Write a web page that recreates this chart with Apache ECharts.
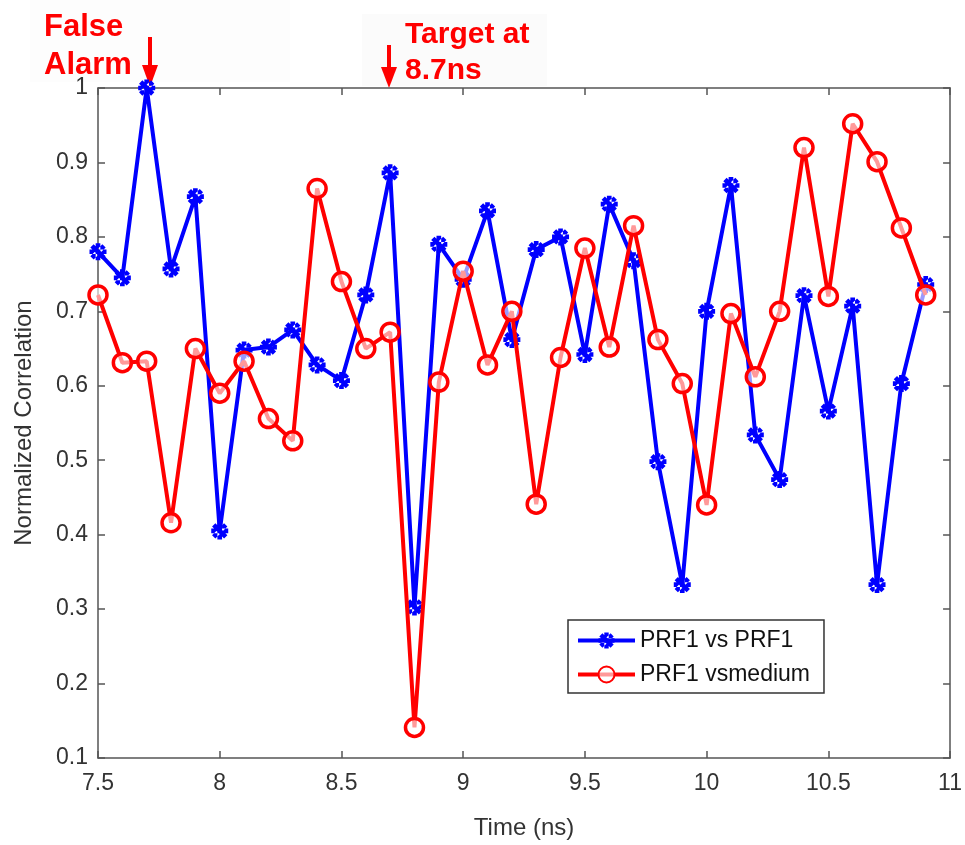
<!DOCTYPE html>
<html><head><meta charset="utf-8">
<script src="https://cdn.jsdelivr.net/npm/echarts@6/dist/echarts.min.js"></script>
<style>html,body{margin:0;padding:0;background:#fff}#c{width:965px;height:845px}</style>
</head><body><div id="c"></div>
<script>
const times = [7.5,7.6,7.7,7.8,7.9,8.0,8.1,8.2,8.3,8.4,8.5,8.6,8.7,8.8,8.9,9.0,9.1,9.2,9.3,9.4,9.5,9.6,9.7,9.8,9.9,10.0,10.1,10.2,10.3,10.4,10.5,10.6,10.7,10.8,10.9];
const prf1VsPrf1 = [0.78,0.745,1.0,0.757,0.854,0.405,0.648,0.652,0.675,0.628,0.607,0.722,0.886,0.303,0.79,0.743,0.835,0.662,0.783,0.80,0.642,0.844,0.768,0.498,0.333,0.70,0.869,0.534,0.474,0.721,0.566,0.707,0.333,0.603,0.736];
const prf1VsMedium = [0.722,0.631,0.633,0.416,0.65,0.59,0.633,0.556,0.526,0.865,0.74,0.65,0.672,0.141,0.605,0.754,0.628,0.70,0.441,0.638,0.785,0.652,0.815,0.662,0.603,0.44,0.697,0.612,0.70,0.92,0.72,0.952,0.901,0.812,0.722];
const seriesNames = ['PRF1 vs PRF1','PRF1 vsmedium'];

const FONT = "'Liberation Sans',Arial,sans-serif";
const asterisk = 'path://M-2.2,-8L2.2,-8L2.2,8L-2.2,8Z M-8,-2.2L8,-2.2L8,2.2L-8,2.2Z M-4.1,-7.2L7.2,4.1L4.1,7.2L-7.2,-4.1Z M-4.1,7.2L7.2,-4.1L4.1,-7.2L-7.2,4.1Z';

const chart = echarts.init(document.getElementById('c'));
const axisCommon = {
  axisLine:{show:true,lineStyle:{color:'#555',width:1.5}},
  axisTick:{show:true,inside:true,length:7,lineStyle:{color:'#555',width:1.5}},
  splitLine:{show:false}
};
chart.setOption({
  animation:false,
  backgroundColor:'#fff',
  grid:{left:98,right:14,top:88,bottom:87,containLabel:false},
  legend:{
    data:seriesNames,
    orient:'vertical', left:568, top:620, itemGap:11, itemWidth:57, itemHeight:20,
    lineStyle:{width:4},
    backgroundColor:'#fff', borderColor:'#333', borderWidth:1.5, padding:[9,14,7,8],
    textStyle:{fontFamily:FONT,fontSize:23,color:'#111'}
  },
  xAxis:[
    Object.assign({type:'value',min:7.5,max:11,interval:0.5,position:'bottom',
      name:'Time (ns)',nameLocation:'middle',nameGap:58,
      nameTextStyle:{fontFamily:FONT,fontSize:24,color:'#333'},
      axisLabel:{fontFamily:FONT,fontSize:23,color:'#333',margin:14,
        formatter:v=>String(+v.toFixed(1))}},axisCommon),
    Object.assign({type:'value',min:7.5,max:11,interval:0.5,position:'top',axisLabel:{show:false}},axisCommon)
  ],
  yAxis:[
    Object.assign({type:'value',min:0.1,max:1,interval:0.1,position:'left',
      name:'Normalized Correlation',nameLocation:'middle',nameGap:62,
      nameTextStyle:{fontFamily:FONT,fontSize:24,color:'#333'},
      axisLabel:{fontFamily:FONT,fontSize:23,color:'#333',margin:10,
        formatter:v=>String(+v.toFixed(1))}},axisCommon),
    Object.assign({type:'value',min:0.1,max:1,interval:0.1,position:'right',axisLabel:{show:false}},axisCommon)
  ],
  series:[
    {name:seriesNames[0],type:'line',data:times.map((t,i)=>[t,prf1VsPrf1[i]]),
      symbol:asterisk,symbolSize:17,showAllSymbol:true,clip:false,
      lineStyle:{color:'#0000ff',width:4},itemStyle:{color:'#0000ff'},z:2},
    {name:seriesNames[1],type:'line',data:times.map((t,i)=>[t,prf1VsMedium[i]]),
      symbol:'circle',symbolSize:18,showAllSymbol:true,clip:false,
      lineStyle:{color:'#ff0000',width:4},itemStyle:{color:'rgba(255,255,255,0.6)',borderColor:'#ff0000',borderWidth:3.5},z:3}
  ],
  graphic:[
    {type:'rect',shape:{x:30,y:0,width:260,height:82},style:{fill:'#fdfdfd'},z:-1},
    {type:'rect',shape:{x:362,y:14,width:185,height:72},style:{fill:'#fbfbfb'},z:-1},
    {type:'text',left:44,top:8,style:{text:'False\nAlarm',fill:'#ff0000',font:"bold 31px 'Liberation Sans',Arial,sans-serif",lineHeight:38}},
    {type:'line',shape:{x1:150,y1:37,x2:150,y2:70},style:{stroke:'#ff0000',lineWidth:4}},
    {type:'polygon',shape:{points:[[142,65],[158,65],[150,87]]},style:{fill:'#ff0000'}},
    {type:'text',left:405,top:17,style:{text:'Target at\n8.7ns',fill:'#ff0000',font:"bold 30px 'Liberation Sans',Arial,sans-serif",lineHeight:36}},
    {type:'line',shape:{x1:389,y1:45,x2:389,y2:72},style:{stroke:'#ff0000',lineWidth:4}},
    {type:'polygon',shape:{points:[[381,67],[397,67],[389,88]]},style:{fill:'#ff0000'}}
  ]
});
</script></body></html>
